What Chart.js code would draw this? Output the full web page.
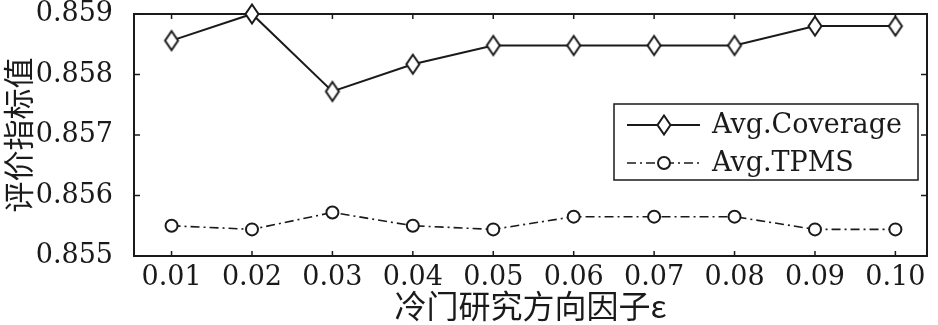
<!DOCTYPE html>
<html>
<head>
<meta charset="utf-8">
<script src="https://cdn.jsdelivr.net/npm/chart.js@4"></script>
<style>
  html, body { margin: 0; padding: 0; background: #fff; }
  #wrap { width: 938px; height: 325px; }
</style>
</head>
<body>
<div id="wrap"><canvas id="linechart"></canvas></div>
<script>
const xLabels = ['0.01', '0.02', '0.03', '0.04', '0.05', '0.06', '0.07', '0.08', '0.09', '0.10'];
const coverage = [0.85856, 0.85900, 0.85772, 0.85817, 0.85848, 0.85848, 0.85848, 0.85848, 0.85880, 0.85880];
const tpms = [0.85550, 0.85544, 0.85572, 0.85550, 0.85544, 0.85565, 0.85565, 0.85565, 0.85544, 0.85544];
const yTicks = [0.855, 0.856, 0.857, 0.858, 0.859];
const seriesNames = ['Avg.Coverage', 'Avg.TPMS'];

const ink = '#1a1a1a';
const serif = 'DejaVu Serif';

// tall diamond marker, MATLAB style
function diamond() {
  const c = document.createElement('canvas');
  c.width = 18; c.height = 24;
  const g = c.getContext('2d');
  g.fillStyle = '#fff';
  g.strokeStyle = ink;
  g.lineWidth = 2;
  g.beginPath();
  g.moveTo(9, 2.5); g.lineTo(15.5, 12); g.lineTo(9, 21.5); g.lineTo(2.5, 12);
  g.closePath();
  g.fill(); g.stroke();
  return c;
}
const diamondImg = diamond();

const toPoints = arr => arr.map((v, i) => ({ x: i, y: v }));

// frame, inward ticks and the boxed legend
const framePlugin = {
  id: 'frame',
  beforeDatasetsDraw(chart) {
    const { ctx, chartArea: a, scales } = chart;
    ctx.save();
    ctx.strokeStyle = ink;
    ctx.lineWidth = 2;
    ctx.strokeRect(a.left, a.top, a.right - a.left, a.bottom - a.top);
    ctx.lineWidth = 1.5;
    ctx.beginPath();
    xLabels.forEach((l, i) => {
      const x = scales.x.getPixelForValue(i);
      ctx.moveTo(x, a.bottom); ctx.lineTo(x, a.bottom - 5);
      ctx.moveTo(x, a.top); ctx.lineTo(x, a.top + 5);
    });
    yTicks.forEach(v => {
      const y = scales.y.getPixelForValue(v);
      ctx.moveTo(a.left, y); ctx.lineTo(a.left + 6, y);
      ctx.moveTo(a.right, y); ctx.lineTo(a.right - 6, y);
    });
    ctx.stroke();
    ctx.restore();
  },
  afterDatasetsDraw(chart) {
    const { ctx } = chart;
    ctx.save();
    ctx.strokeStyle = ink;
    const bx = 614, by = 104, bw = 304, bh = 76;
    ctx.fillStyle = '#fff';
    ctx.fillRect(bx, by, bw, bh);
    ctx.lineWidth = 1.5;
    ctx.strokeRect(bx, by, bw, bh);
    chart.data.datasets.forEach((ds, i) => {
      const y = by + 21 + i * 38;
      ctx.save();
      ctx.strokeStyle = ink;
      ctx.lineWidth = ds.borderWidth;
      ctx.setLineDash(ds.borderDash || []);
      ctx.beginPath();
      ctx.moveTo(627, y); ctx.lineTo(700, y);
      ctx.stroke();
      ctx.restore();
      if (i === 0) {
        ctx.drawImage(diamondImg, 664 - 9, y - 12);
      } else {
        ctx.beginPath();
        ctx.arc(664, y, 6, 0, Math.PI * 2);
        ctx.fillStyle = '#fff';
        ctx.fill();
        ctx.lineWidth = 2;
        ctx.stroke();
      }
      ctx.fillStyle = ink;
      ctx.font = '27px "' + serif + '"';
      ctx.textBaseline = 'middle';
      ctx.fillText(seriesNames[i], 712, y + 1);
    });
    ctx.restore();
  }
};

const ctx = document.getElementById('linechart');

new Chart(ctx, {
  type: 'line',
  data: {
    datasets: [{
      label: seriesNames[0],
      data: toPoints(coverage),
      borderColor: ink,
      borderWidth: 2,
      pointStyle: diamondImg,
      pointRadius: 9,
      clip: false
    },
    {
      label: seriesNames[1],
      data: toPoints(tpms),
      borderColor: ink,
      borderWidth: 1.6,
      borderDash: [9, 4, 2, 4],
      pointStyle: 'circle',
      pointRadius: 6,
      pointBorderWidth: 2,
      pointBackgroundColor: '#fff',
      pointBorderColor: ink,
      clip: false
    }]
  },
  options: {
    responsive: true,
    maintainAspectRatio: false,
    animation: false,
    layout: { padding: { top: 14, right: 1, bottom: 0, left: 0 } },
    plugins: { legend: { display: false }, tooltip: { enabled: false } },
    scales: {
      x: {
        type: 'linear',
        min: -0.467,
        max: 9.393,
        grid: { display: false },
        border: { display: false },
        ticks: {
          stepSize: 1,
          includeBounds: false,
          padding: -2,
          color: ink,
          font: { family: serif, size: 27 },
          callback: v => xLabels[v]
        },
        title: {
          display: true,
          text: '冷门研究方向因子ε',
          color: ink,
          padding: 0,
          font: { family: 'Noto Sans CJK SC', size: 32 }
        },
        afterFit: s => { s.height = 69; s.paddingLeft = 0; s.paddingRight = 0; }
      },
      y: {
        min: 0.855,
        max: 0.859,
        afterBuildTicks: s => { s.ticks = yTicks.map(v => ({ value: v })); },
        grid: { display: false },
        border: { display: false },
        ticks: {
          padding: 13,
          color: ink,
          font: { family: serif, size: 27 },
          callback: v => v.toFixed(3)
        },
        title: {
          display: true,
          text: '评价指标值',
          color: ink,
          padding: 0,
          font: { family: 'Noto Sans CJK SC', size: 31 }
        },
        afterFit: s => { s.width = 134; s.paddingTop = 0; s.paddingBottom = 0; }
      }
    }
  },
  plugins: [framePlugin]
});
</script>
</body>
</html>
